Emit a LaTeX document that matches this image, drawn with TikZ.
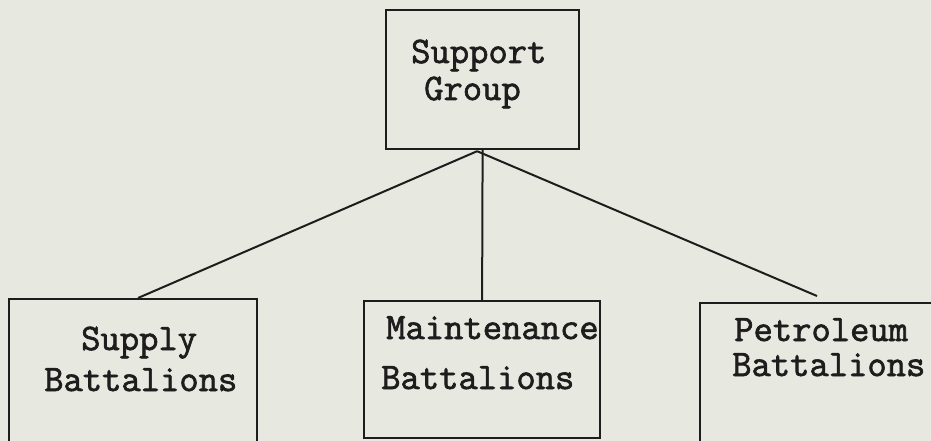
\documentclass[tikz,border=0pt]{standalone}
\usepackage{fontspec}
\setmonofont[FakeBold=1.8]{Latin Modern Mono}
\usetikzlibrary{calc}
\definecolor{paper}{RGB}{231,233,225}
\definecolor{ink}{RGB}{30,28,28}
\begin{document}
\begin{tikzpicture}[x=1pt,y=-1pt,
  orgbox/.style={draw=ink, line width=2.2pt, inner sep=0pt, anchor=north west},
  label/.style={anchor=base west, inner sep=0pt, text=ink,
    font=\ttfamily\bfseries\fontsize{37.5}{42}\selectfont},
  link/.style={draw=ink, line width=2pt}]
  % page and background
  \fill[paper] (0,0) rectangle (931,441);
  \useasboundingbox (0,0) rectangle (931,441);
  \clip (0,0) rectangle (931,441);

  % boxes
  \node[orgbox, minimum width=193pt, minimum height=139pt] (group) at (385,9) {};
  \node[orgbox, minimum width=248pt, minimum height=170pt] (supply) at (8,298) {};
  \node[orgbox, minimum width=236pt, minimum height=137pt] (maint) at (363,300) {};
  \node[orgbox, minimum width=270pt, minimum height=170pt] (petrol) at (699,302) {};

  % connectors
  \coordinate (apex) at ($(group.south)+(-5.5,1)$);
  \draw[link] (apex) -- ($(supply.north west)+(130,0)$);
  \draw[link] (group.south) -- (maint.north);
  \draw[link] (apex) -- ($(petrol.north west)+(118,-6)$);

  % texts
  \node[label] (t1) at (411,63) {Support};
  \node[label] (t2) at (424,100) {Group};
  \node[label] (s1) at (81,350) {Supply};
  \node[label] (s2) at (44,391) {Battalions};
  \node[label] (m1) at (386,339) {Maintenance};
  \node[label] (m2) at (381,389) {Battalions};
  \node[label] (p1) at (734,341) {Petroleum};
  \node[label] (p2) at (732,376) {Battalions};
\end{tikzpicture}
\end{document}
